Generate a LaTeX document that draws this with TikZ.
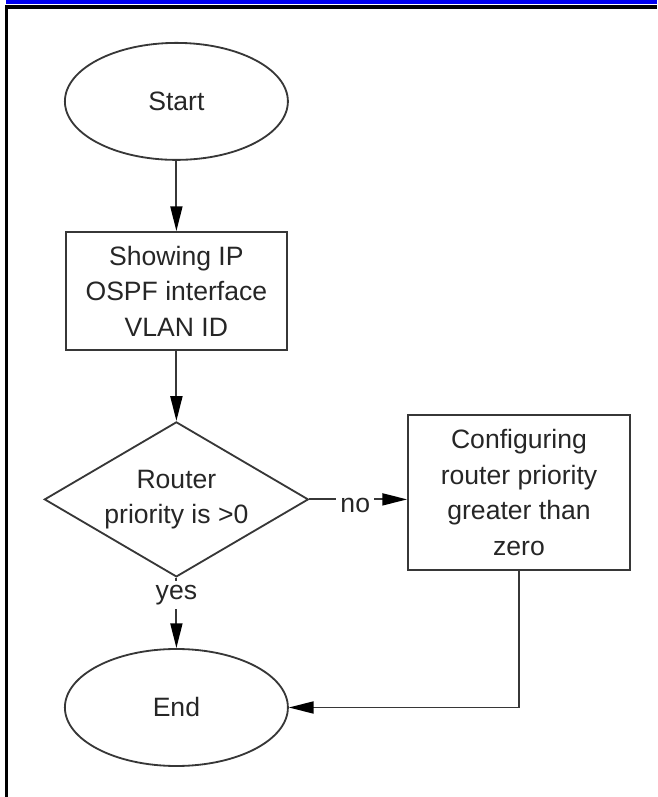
\documentclass[tikz,border=0pt]{standalone}
\usepackage{fontspec}
\setmainfont{Liberation Sans}
\definecolor{barblue}{RGB}{0,0,238}
\definecolor{inkgrey}{RGB}{55,55,55}
\usetikzlibrary{arrows.meta, positioning, shapes.geometric}

\begin{document}
\begin{tikzpicture}[every node/.style={font=\fontsize{18.9}{25.2}\selectfont, text=black!85},
  outline/.style={draw=inkgrey, line width=1.3pt},
  terminal/.style={ellipse, outline, minimum width=5.575cm, minimum height=2.925cm, inner sep=0pt},
  procbox/.style={rectangle, outline, align=center, inner sep=0pt},
  decision/.style={diamond, outline, aspect=1.7, align=center, inner sep=0pt,
                   minimum width=6.6cm, minimum height=3.875cm},
  flowarrow/.style={inkgrey, line width=1.3pt, -{Triangle[length=0.62cm, width=0.3cm, black]}},
  lbl/.style={fill=white, inner sep=0.1cm}]
\useasboundingbox (0,0) rectangle (16.425,19.925);

% frame of the page
\fill[barblue] (0.15,19.825) rectangle (16.425,19.925);
\fill[black] (0.125,19.7) rectangle (16.425,19.7925);
\fill[black] (0.125,0) rectangle (0.2075,19.7925);

\node[terminal] (start) at (4.41,17.39) {Start};
\node[procbox, minimum width=5.525cm, minimum height=2.95cm]
  (show) at (4.41,12.65) {Showing IP\\OSPF interface\\VLAN ID};
\node[decision] (router) at (4.41,7.44) {Router\\priority is >0};
\node[procbox, minimum width=5.55cm, minimum height=3.875cm]
  (config) at (12.975,7.6125) {Configuring\\router priority\\greater than\\zero};
\node[terminal] (finish) at (4.41,2.2375) {End};

\draw[flowarrow] (start) -- (show);
\draw[flowarrow] (show) -- (router);
\draw[flowarrow] (router.east) -- node[lbl, pos=0.47, yshift=-0.14cm] {no} (router.east -| config.west);
\draw[flowarrow] (router.south) -- node[lbl, pos=0.25] {yes} (finish.north);
\draw[flowarrow] (config.south) |- (finish.east);
\end{tikzpicture}
\end{document}
